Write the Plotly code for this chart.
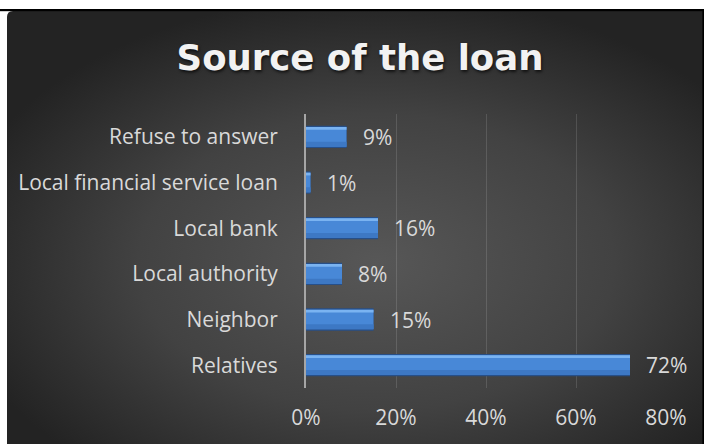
import base64
import plotly.graph_objects as go

# Loan sources (bottom to top as drawn) and their shares in percent
sources = ["Relatives", "Neighbor", "Local authority", "Local bank",
           "Local financial service loan", "Refuse to answer"]
shares = [72, 15, 8, 16, 1, 9]
tick_values = [0, 20, 40, 60, 80]
tick_labels = ["0%", "20%", "40%", "60%", "80%"]

W, H = 704, 444
L, R, T, B = 306, 38, 114, 56
plot_w, plot_h = W - L - R, H - T - B

LABEL_FONT = "Open Sans, Lato, sans-serif"

# Background card: white page, black rule on top, dark radial gradient panel
svg = f"""<svg xmlns='http://www.w3.org/2000/svg' width='{W}' height='{H}' viewBox='0 0 {W} {H}'>
<defs><radialGradient id='g' cx='0.53' cy='0.58' r='0.62'>
<stop offset='0' stop-color='#575757'/><stop offset='0.55' stop-color='#424242'/>
<stop offset='1' stop-color='#232323'/></radialGradient></defs>
<rect x='0' y='0' width='{W}' height='{H}' fill='#ffffff'/>
<path d='M7 {H} L7 17 Q7 11 13 11 L{W} 11 L{W} {H} Z' fill='url(#g)'/>
<rect x='0' y='9' width='{W}' height='2.2' fill='#000000'/>
<rect x='{W-1.6}' y='9' width='1.6' height='{H-9}' fill='#000000'/>
</svg>"""
bg_uri = "data:image/svg+xml;base64," + base64.b64encode(svg.encode()).decode()

fig = go.Figure()

# Bevelled bars built as stacked bands of the same bar values
bands = [
    (-0.245, 0.49, "#274f88"),   # dark rim
    (-0.215, 0.43, "#4888d7"),   # body
    (-0.215, 0.11, "#3d78c4"),   # lower shade
    (0.155, 0.06, "#7ab3f1"),    # upper highlight
]
for off, wid, col in bands:
    fig.add_trace(go.Bar(
        x=shares, y=sources, orientation="h",
        offset=off, width=wid,
        marker=dict(color=col, line=dict(width=0)),
        hoverinfo="skip", showlegend=False,
    ))

# Value labels just beyond each bar end
for s, v in zip(sources, shares):
    fig.add_annotation(
        x=v, y=s, text=f"{v}%", showarrow=False,
        xanchor="left", yanchor="middle", xshift=14,
        font=dict(family=LABEL_FONT, size=21, color="#d9d9d9"),
    )

fig.update_layout(
    width=W, height=H,
    margin=dict(l=L, r=R, t=T, b=B, pad=0),
    paper_bgcolor="#ffffff",
    plot_bgcolor="rgba(0,0,0,0)",
    barmode="overlay",
    title=dict(
        text="Source of the loan",
        x=360 / W, xref="container", xanchor="center",
        y=1 - 58 / H, yref="container", yanchor="middle",
        font=dict(family="DejaVu Sans, sans-serif", size=35.5,
                  color="#f2f2f2", weight="bold",
                  shadow="1px 2px 3px rgba(0,0,0,0.65)"),
    ),
    xaxis=dict(
        range=[0, 80], tickvals=tick_values, ticktext=tick_labels,
        showgrid=True, gridcolor="rgba(255,255,255,0.13)", gridwidth=1.3,
        zeroline=False, showline=False, ticks="",
        ticklabelstandoff=15,
        tickfont=dict(family=LABEL_FONT, size=21, color="#d9d9d9"),
        fixedrange=True,
    ),
    yaxis=dict(
        categoryorder="array", categoryarray=sources,
        showgrid=False, zeroline=False,
        showline=True, linecolor="#a6a6a6", linewidth=2,
        ticks="", ticklabelstandoff=22,
        tickfont=dict(family=LABEL_FONT, size=21, color="#d9d9d9"),
        fixedrange=True,
    ),
    images=[dict(
        source=bg_uri, xref="paper", yref="paper",
        x=-L / plot_w, y=1 + T / plot_h,
        sizex=W / plot_w, sizey=H / plot_h,
        xanchor="left", yanchor="top", sizing="stretch", layer="below",
    )],
)

fig.write_html("out.html", config={"displayModeBar": False})
